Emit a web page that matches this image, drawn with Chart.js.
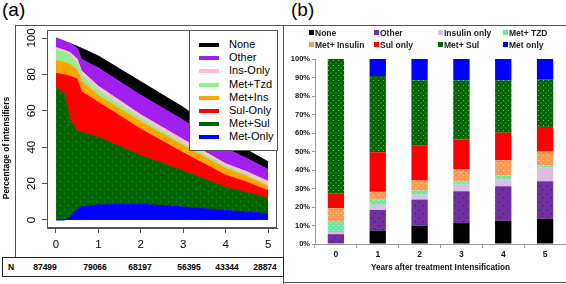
<!DOCTYPE html>
<html>
<head>
<meta charset="utf-8">
<script src="https://cdn.jsdelivr.net/npm/chart.js@4.4.0/dist/chart.umd.min.js"></script>
<style>
  body { margin: 0; width: 566px; height: 284px; position: relative; background: #fff; overflow: hidden;
         font-family: "Liberation Sans", Arial, sans-serif; color: #000; }
  .abs { position: absolute; }
  .line { position: absolute; background: #555; }
  .lgA { position: absolute; left: 189px; top: 30px; width: 87px; height: 119px; background: #fff; border: 1px solid #555; }
  .lgA div { position: absolute; left: 0; height: 13px; line-height: 13px; font-size: 11px; white-space: nowrap; }
  .lgA span { position: absolute; left: 9px; top: 5px; width: 20px; height: 4px; }
  .lgA b { position: absolute; left: 39px; font-weight: normal; }
  .lgB div { position: absolute; font-size: 8.5px; font-weight: bold; color: #222; white-space: nowrap; line-height: 10px; }
  .lgB span { display: inline-block; width: 5px; height: 5px; margin-right: 1px; vertical-align: 1px; }
  .nrow div { position: absolute; top: 262px; font-size: 8.5px; font-weight: bold; transform: translateX(-50%); }
</style>
</head>
<body>
<div class="abs" style="left:2px;top:-1px;font-size:19px">(a)</div>
<div class="abs" style="left:291px;top:-1px;font-size:19px">(b)</div>

<!-- frames -->
<div class="line" style="left:15px;top:25px;width:551px;height:1px"></div>
<div class="line" style="left:15px;top:25px;width:1px;height:233px"></div>
<div class="line" style="left:283px;top:25px;width:1px;height:259px"></div>
<div class="line" style="left:283px;top:282px;width:283px;height:1px"></div>
<div class="abs" style="left:2px;top:257px;width:280px;height:18px;border:1.5px solid #222"></div>

<div class="abs" style="left:0;top:25px"><canvas id="areaChart" width="283" height="233"></canvas></div>
<div class="abs" style="left:283px;top:25px"><canvas id="barChart" width="283" height="259"></canvas></div>

<div class="lgA" id="legendA"></div>
<div class="lgB" id="legendB"></div>
<div class="nrow" id="nRow"></div>

<script>
// ---- panel (a): stacked area, % of intensifiers ----
const years = [0, 0.2, 0.33, 0.5, 0.6, 1, 2, 3, 4, 4.5, 5];
const metOnly = [0, 0, 1.5, 6, 7.2, 8.3, 8.7, 7.1, 5.2, 4.3, 3.5];
const metSul = [72.8, 69, 53.5, 43, 41, 37.1, 26.7, 19.8, 12.7, 10.8, 8.3];
const sulOnly = [7.8, 10.8, 24, 28.5, 22.3, 19.3, 14.5, 10.0, 6.7, 5.7, 4.3];
const metIns = [7.0, 6.7, 6.5, 5.0, 6.0, 3.6, 4.1, 4.0, 3.6, 3.0, 2.4];
const metTzd = [5.9, 5.5, 5.0, 4.0, 3.2, 2.7, 1.7, 1.1, 1.1, 0.8, 0.4];
const insOnly = [1.2, 1.3, 1.5, 2.0, 2.3, 2.5, 2.1, 2.2, 1.6, 1.9, 2.3];
const other = [5.3, 4.9, 5.0, 5.9, 6.3, 10.0, 10.7, 10.6, 8.4, 7.3, 6.5];
const none = [0, 0, 0, 1.0, 6.1, 6.6, 7.5, 7.1, 5.7, 4.7, 4.3];
const xTicks = [0, 1, 2, 3, 4, 5];
const yTicks = [0, 20, 40, 60, 80, 100];
const nLabels = ['87499', '79066', '68197', '56395', '43344', '28874'];

// ---- panel (b): 100% stacked bars ----
const yearLabels = ['0', '1', '2', '3', '4', '5'];
const barNone = [0, 7.3, 9.9, 11.4, 12.6, 13.7];
const barOther = [5.3, 11.1, 14.1, 17.1, 18.6, 20.2];
const barInsulin = [1.2, 2.8, 2.7, 3.6, 3.6, 7.3];
const barTzd = [5.9, 3.0, 2.2, 1.8, 2.4, 1.2];
const barMetInsulin = [7.0, 4.0, 5.4, 6.4, 8.1, 7.6];
const barSul = [7.8, 21.4, 19.1, 16.2, 14.9, 13.3];
const barMetSul = [72.8, 41.2, 35.1, 32.0, 28.3, 25.8];
const barMetOnly = [0, 9.2, 11.5, 11.5, 11.5, 10.9];

Chart.defaults.font.family = '"Liberation Sans", Arial, sans-serif';
Chart.defaults.color = '#000';

function dotted(bg, dot, step) {
  const c = document.createElement('canvas');
  c.width = step; c.height = step;
  const g = c.getContext('2d');
  g.fillStyle = bg; g.fillRect(0, 0, step, step);
  g.fillStyle = dot;
  g.fillRect(0, 0, 1, 1);
  g.fillRect(step / 2, step / 2, 1, 1);
  return g.createPattern(c, 'repeat');
}

// bottom to top
const areaSeries = [
  { name: 'Met-Only', data: metOnly, color: '#0000ff' },
  { name: 'Met+Sul', data: metSul, color: '#006400', fill: dotted('#006400', '#3f8f3f', 8) },
  { name: 'Sul-Only', data: sulOnly, color: '#ff0000' },
  { name: 'Met+Ins', data: metIns, color: '#ffa500' },
  { name: 'Met+Tzd', data: metTzd, color: '#90ee90' },
  { name: 'Ins-Only', data: insOnly, color: '#ffc0cb' },
  { name: 'Other', data: other, color: '#a020f0' },
  { name: 'None', data: none, color: '#000000' }
];

const frameA = {
  id: 'frameA',
  afterDraw(chart) {
    const { ctx, chartArea: a, scales } = chart;
    ctx.save();
    ctx.strokeStyle = '#555';
    ctx.lineWidth = 1;
    ctx.strokeRect(a.left + 0.5, a.top + 0.5, a.right - a.left - 1, a.bottom - a.top - 1);
    ctx.fillStyle = '#000';
    ctx.textAlign = 'center';
    ctx.textBaseline = 'middle';
    ctx.font = '11.5px "Liberation Sans", Arial, sans-serif';
    yTicks.forEach(v => {
      const y = scales.y.getPixelForValue(v);
      ctx.save();
      ctx.translate(32, y);
      ctx.rotate(-Math.PI / 2);
      ctx.fillText(String(v), 0, 0);
      ctx.restore();
    });
    ctx.font = 'bold 8.4px "Liberation Sans", Arial, sans-serif';
    ctx.translate(7, 123);
    ctx.rotate(-Math.PI / 2);
    ctx.fillText('Percentage of intensifiers', 0, 0);
    ctx.restore();
  }
};

new Chart(document.getElementById('areaChart'), {
  type: 'line',
  data: {
    datasets: areaSeries.map((s, i) => ({
      label: s.name,
      data: years.map((x, j) => ({ x: x, y: s.data[j] })),
      backgroundColor: s.fill || s.color,
      borderColor: s.color,
      borderWidth: 1,
      pointRadius: 0,
      tension: 0,
      fill: i === 0 ? 'origin' : '-1'
    }))
  },
  options: {
    responsive: false,
    animation: false,
    layout: { padding: { top: 5, right: 6, left: 0, bottom: 0 } },
    plugins: { legend: { display: false }, tooltip: { enabled: false } },
    scales: {
      x: {
        type: 'linear', min: -0.21, max: 5.21,
        afterBuildTicks: s => { s.ticks = xTicks.map(v => ({ value: v })); },
        afterFit: s => { s.height = 30; },
        grid: { drawOnChartArea: false, tickLength: 5, color: '#555' },
        border: { color: '#555' },
        ticks: { font: { size: 11.5 }, padding: 5, color: '#000' }
      },
      y: {
        type: 'linear', stacked: true, min: -4.4, max: 104.4,
        afterBuildTicks: s => { s.ticks = yTicks.map(v => ({ value: v })); },
        afterFit: s => { s.width = 47; },
        grid: { drawOnChartArea: false, tickLength: 5, color: '#555' },
        border: { color: '#555' },
        ticks: { display: false }
      }
    }
  },
  plugins: [frameA]
});

// legend (a), top entry = top of the stack
const lgA = document.getElementById('legendA');
areaSeries.slice().reverse().forEach((s, i) => {
  const row = document.createElement('div');
  row.style.top = (7 + i * 13.2) + 'px';
  row.style.width = '87px';
  row.innerHTML = '<span style="background:' + s.color + '"></span><b>' + s.name + '</b>';
  lgA.appendChild(row);
});

// N row
const nRow = document.getElementById('nRow');
const nPos = [45, 95, 140, 189, 227, 265];
const nHead = document.createElement('div');
nHead.textContent = 'N';
nHead.style.left = '11px';
nRow.appendChild(nHead);
nLabels.forEach((t, i) => {
  const d = document.createElement('div');
  d.textContent = t;
  d.style.left = nPos[i] + 'px';
  nRow.appendChild(d);
});

// ---- panel (b) ----
const barSeries = [
  { name: 'None', data: barNone, color: '#000000' },
  { name: 'Other', data: barOther, color: '#7030a0', fill: dotted('#7030a0', '#3a1060', 8) },
  { name: 'Insulin only', data: barInsulin, color: '#dcbde6' },
  { name: 'Met+ TZD', data: barTzd, color: '#6fe6a0', fill: dotted('#6fe6a0', '#c8f8dc', 5) },
  { name: 'Met+ Insulin', data: barMetInsulin, color: '#fa9a52', fill: dotted('#fa9a52', '#fcd0a8', 5) },
  { name: 'Sul only', data: barSul, color: '#ff0000' },
  { name: 'Met+ Sul', data: barMetSul, color: '#006400', fill: dotted('#006400', '#6fbf6f', 5) },
  { name: 'Met only', data: barMetOnly, color: '#0000ff' }
];

new Chart(document.getElementById('barChart'), {
  type: 'bar',
  data: {
    labels: yearLabels,
    datasets: barSeries.map(s => ({
      label: s.name,
      data: s.data,
      backgroundColor: s.fill || s.color,
      borderWidth: 0,
      barPercentage: 0.39,
      categoryPercentage: 1
    }))
  },
  options: {
    responsive: false,
    animation: false,
    layout: { padding: { top: 34, right: 0, left: 0, bottom: 0 } },
    plugins: { legend: { display: false }, tooltip: { enabled: false } },
    scales: {
      x: {
        stacked: true,
        afterFit: s => { s.height = 40; },
        grid: { drawOnChartArea: false, tickLength: 4, color: '#999', offset: true },
        border: { color: '#999' },
        ticks: { font: { size: 8.5, weight: 'bold' }, color: '#111', padding: 2 },
        title: { display: true, text: 'Years after treatment Intensification',
                 font: { size: 8.2, weight: 'bold' }, color: '#111', padding: { top: 0, bottom: 11 } }
      },
      y: {
        stacked: true, min: 0, max: 100,
        afterFit: s => { s.width = 32; },
        grid: { drawOnChartArea: false, tickLength: 3, color: '#999' },
        border: { color: '#999' },
        ticks: { stepSize: 10, callback: v => v + '%', font: { size: 7.5, weight: 'bold' }, color: '#111', padding: 2 }
      }
    }
  }
});

// legend (b): two rows of four
const lgB = document.getElementById('legendB');
const colX = [309, 374, 438, 503];
barSeries.forEach((s, i) => {
  const d = document.createElement('div');
  d.style.left = colX[i % 4] + 'px';
  d.style.top = (i < 4 ? 28 : 40) + 'px';
  d.innerHTML = '<span style="background:' + s.color + '"></span>' + s.name;
  lgB.appendChild(d);
});
</script>
</body>
</html>
